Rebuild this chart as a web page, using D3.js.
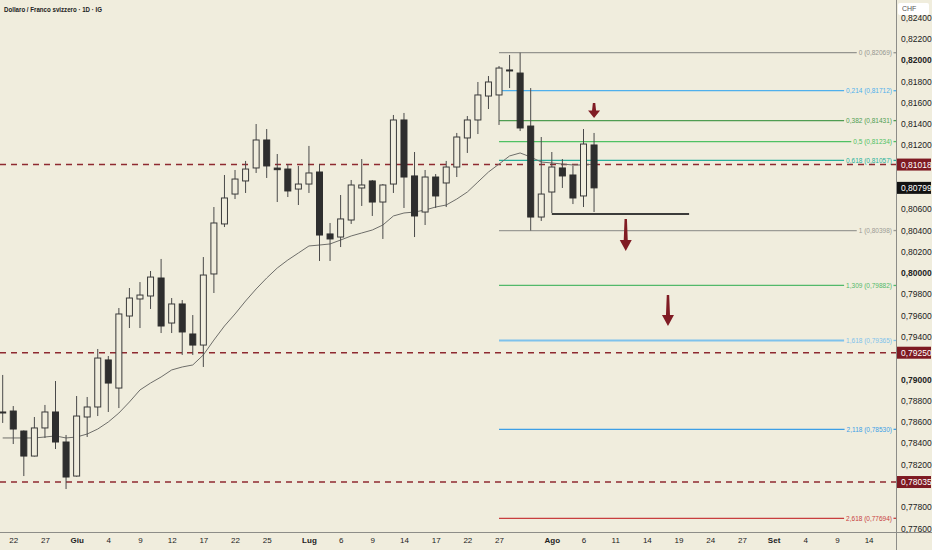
<html>
<head>
<meta charset="utf-8">
<script src="https://d3js.org/d3.v7.min.js"></script>
<style>
  body { margin: 0; background: #f0eddd; }
  svg { display: block; font-family: 'Liberation Sans', Arial, sans-serif; }
</style>
</head>
<body>
<svg width="932" height="550"></svg>
<script>
// daily candles, USD/CHF (bar index = position on the time axis)
const opens  = [0.78693,0.78702,0.78514,0.78279,0.78543,0.78693,0.78411,0.78091,0.78646,0.78740,
                0.79182,0.78918,0.79595,0.79755,0.79783,0.79952,0.79529,0.79708,0.79426,0.79322,
                0.79990,0.80460,0.80741,0.80864,0.80986,0.81249,0.80985,0.80976,0.80788,0.80835,
                0.80948,0.80366,0.80337,0.80497,0.80798,0.80864,0.80666,0.80835,0.81437,0.80911,
                0.80572,0.80901,0.80845,0.80995,0.81268,0.81437,0.81662,0.81672,0.81907,0.81878,
                0.81380,0.80525,0.80760,0.80986,0.80920,0.80723,0.81202];
const highs  = [0.79041,0.78749,0.78520,0.78646,0.78759,0.78984,0.78477,0.78843,0.78834,0.79285,
                0.79219,0.79670,0.79858,0.79914,0.80018,0.80131,0.79764,0.79745,0.79604,0.80149,
                0.80619,0.80920,0.80967,0.81052,0.81399,0.81352,0.81117,0.81023,0.81005,0.81193,
                0.81023,0.80469,0.80732,0.80873,0.81070,0.80873,0.80835,0.81484,0.81503,0.81136,
                0.80967,0.80929,0.81052,0.81315,0.81474,0.81794,0.81850,0.81944,0.82048,0.82069,
                0.81737,0.81277,0.81136,0.81070,0.81005,0.81352,0.81315];
const lows   = [0.78590,0.78392,0.78091,0.78275,0.78449,0.78345,0.77969,0.78085,0.78458,0.78655,
                0.78693,0.78730,0.79482,0.79482,0.79661,0.79435,0.79435,0.79229,0.79229,0.79116,
                0.79811,0.80431,0.80694,0.80751,0.80939,0.80892,0.80666,0.80713,0.80638,0.80751,
                0.80112,0.80112,0.80243,0.80460,0.80629,0.80535,0.80319,0.80751,0.80610,0.80337,
                0.80450,0.80610,0.80619,0.80901,0.81127,0.81305,0.81540,0.81390,0.81737,0.81333,
                0.80398,0.80488,0.80563,0.80798,0.80647,0.80619,0.80572];
const closes = [0.78684,0.78533,0.78279,0.78543,0.78693,0.78411,0.78082,0.78655,0.78740,0.79200,
                0.78965,0.79614,0.79764,0.79792,0.79961,0.79501,0.79708,0.79445,0.79322,0.79980,
                0.80469,0.80704,0.80882,0.80976,0.81249,0.81005,0.80970,0.80770,0.80835,0.80939,
                0.80356,0.80319,0.80507,0.80826,0.80826,0.80666,0.80826,0.81437,0.80901,0.80535,
                0.80901,0.80723,0.80995,0.81277,0.81437,0.81672,0.81794,0.81925,0.81898,0.81362,
                0.80525,0.80741,0.80995,0.80911,0.80704,0.81211,0.80799];
// 20-day moving average
const ma20   = [0.78449,0.78449,0.78449,0.78449,0.78458,0.78468,0.78449,0.78458,0.78486,0.78533,
                0.78599,0.78683,0.78787,0.78900,0.78965,0.79022,0.79088,0.79116,0.79135,0.79229,
                0.79369,0.79501,0.79614,0.79736,0.79849,0.79952,0.80046,0.80121,0.80187,0.80253,
                0.80262,0.80272,0.80309,0.80347,0.80375,0.80403,0.80450,0.80535,0.80563,0.80572,
                0.80591,0.80619,0.80638,0.80694,0.80760,0.80854,0.80948,0.81023,0.81099,0.81127,
                0.81089,0.81042,0.81033,0.81023,0.81014,0.81014,0.81023];

// time axis ticks
const xTickIdx    = [1,4,7,10,13,16,19,22,25,29,32,35,38,41,44,47,52,55,58,61,64,67,70,73,76,79,82];
const xTickLabels = ['22','27','Giu','4','9','12','17','22','25','Lug','6','9','14','17','22','27',
                     'Ago','6','11','14','19','24','27','Set','4','9','14'];
const monthLabels = ['Giu','Lug','Ago','Set'];

// price axis ticks
const yTicks = [0.776,0.778,0.780,0.782,0.784,0.786,0.788,0.790,0.792,0.794,0.796,0.798,
                0.800,0.802,0.804,0.806,0.808,0.810,0.812,0.814,0.816,0.818,0.820,0.822,0.824];

// fibonacci extension
const fibRatios = ['0','0,214','0,382','0,5','0,618','1','1,309','1,618','2,118','2,618'];
const fibValues = [0.82069,0.81712,0.81431,0.81234,0.81057,0.80398,0.79882,0.79365,0.78530,0.77694];
const fibColors = ['#95958f','#4fb0ec','#4f9d52','#4fc163','#26b19a','#9c9c96','#52b96a','#7ec2ec','#3d9fe6','#c83e3e'];
const fibStartIdx = 47;

// key horizontal levels and current price
const keyLevels = [0.81018, 0.79250, 0.78035];
const lastPrice = 0.80799;
const supportLevel = 0.80553, supportFrom = 52, supportTo = 65;
// down arrows: bar index, tail price, tip price
const arrowIdx  = [56, 59, 63];
const arrowTail = [0.81597, 0.80506, 0.79792];
const arrowTip  = [0.81456, 0.80206, 0.79501];

const W = 896, H = 532;
const bg = '#f0eddd', dark = '#2e2e2e', red = '#801c24';

const svg = d3.select('svg');
svg.append('rect').attr('width', 932).attr('height', 550).attr('fill', bg);

const x = d3.scaleLinear().domain([0, 84]).range([2.7, 2.7 + 84 * 10.56]);
const y = d3.scaleLinear().domain([0.775653, 0.825644]).range([H, 0]);
const fmt = v => d3.format('.5f')(v).replace('.', ',');

const plot = svg.append('g');

// key dashed levels
plot.selectAll('line.key').data(keyLevels).enter().append('line')
  .attr('x1', 0).attr('x2', W)
  .attr('y1', d => y(d)).attr('y2', d => y(d))
  .attr('stroke', '#8e2a30').attr('stroke-width', 1.5).attr('stroke-dasharray', '6,5');

// fib lines + labels
const fib = plot.selectAll('g.fib').data(fibValues).enter().append('g');
fib.each(function(d, i) {
  const g = d3.select(this);
  const t = g.append('text')
    .attr('x', 892).attr('y', y(d)).attr('dy', '0.35em')
    .attr('text-anchor', 'end').attr('font-size', 6.5)
    .attr('fill', fibColors[i])
    .text(fibRatios[i] + ' (' + fmt(d) + ')');
  const tw = t.node().getComputedTextLength();
  g.insert('line', 'text')
    .attr('x1', x(fibStartIdx)).attr('x2', 892 - tw - 2)
    .attr('y1', y(d)).attr('y2', y(d))
    .attr('stroke', fibColors[i]).attr('stroke-width', i === 7 ? 1.8 : 1.3);
  g.append('line')
    .attr('x1', 893.5).attr('x2', W)
    .attr('y1', y(d)).attr('y2', y(d))
    .attr('stroke', fibColors[i]).attr('stroke-width', 1.3);
});

// moving average
plot.append('path')
  .datum(ma20)
  .attr('fill', 'none').attr('stroke', '#6e6e6a').attr('stroke-width', 1)
  .attr('d', d3.line().x((d, i) => x(i)).y(d => y(d)));

// candles
const idx = d3.range(closes.length);
plot.selectAll('line.wick').data(idx).enter().append('line')
  .attr('x1', i => x(i)).attr('x2', i => x(i))
  .attr('y1', i => y(highs[i])).attr('y2', i => y(lows[i]))
  .attr('stroke', '#4a4a4a').attr('stroke-width', 1);

plot.selectAll('rect.body').data(idx).enter().append('rect')
  .attr('x', i => x(i) - 3)
  .attr('width', 6)
  .attr('y', i => y(Math.max(opens[i], closes[i])))
  .attr('height', i => Math.max(1, Math.abs(y(opens[i]) - y(closes[i]))))
  .attr('fill', i => closes[i] >= opens[i] ? bg : dark)
  .attr('stroke', i => closes[i] >= opens[i] ? '#3a3a3a' : dark)
  .attr('stroke-width', 1);

// support line
plot.append('line')
  .attr('x1', x(supportFrom)).attr('x2', x(supportTo))
  .attr('y1', y(supportLevel)).attr('y2', y(supportLevel))
  .attr('stroke', '#3c3c3a').attr('stroke-width', 2);

// arrows
arrowIdx.forEach((d, i) => {
  const cx = x(d), yt = y(arrowTail[i]), yp = y(arrowTip[i]);
  const len = yp - yt, head = Math.min(11, len * 0.5);
  const p = d3.path();
  p.moveTo(cx - 1.2, yt);
  p.lineTo(cx + 1.2, yt);
  p.lineTo(cx + 2, yp - head);
  p.lineTo(cx + 6, yp - head);
  p.lineTo(cx, yp);
  p.lineTo(cx - 6, yp - head);
  p.lineTo(cx - 2, yp - head);
  p.closePath();
  plot.append('path').attr('d', p.toString()).attr('fill', red);
});

// axes frame
svg.append('line').attr('x1', W + 0.5).attr('x2', W + 0.5).attr('y1', 0).attr('y2', 550)
  .attr('stroke', '#8d8d88').attr('stroke-width', 1);
svg.append('line').attr('x1', 0).attr('x2', 932).attr('y1', H + 0.5).attr('y2', H + 0.5)
  .attr('stroke', '#8d8d88').attr('stroke-width', 1);

// price axis (labels covered by a price tag are hidden, as on the platform)
const tagged = keyLevels.concat([lastPrice]);
const visibleTicks = yTicks.filter(t => tagged.every(v => Math.abs(y(t) - y(v)) > 11));
const yAxis = svg.append('g').attr('transform', 'translate(' + (W + 1) + ',0)')
  .call(d3.axisRight(y).tickValues(visibleTicks).tickSize(0).tickPadding(4).tickFormat(fmt));
yAxis.select('.domain').remove();
yAxis.selectAll('text')
  .attr('font-family', "'Liberation Sans', Arial, sans-serif")
  .attr('font-size', 8.5).attr('fill', '#222')
  .attr('font-weight', d => Math.abs(d * 100 - Math.round(d * 100)) < 1e-6 ? 'bold' : 'normal');

// time axis
const xAxis = svg.append('g').attr('transform', 'translate(0,' + H + ')')
  .call(d3.axisBottom(x).tickValues(xTickIdx).tickSize(0).tickPadding(5)
    .tickFormat((d, i) => xTickLabels[i]));
xAxis.select('.domain').remove();
xAxis.selectAll('text')
  .attr('font-family', "'Liberation Sans', Arial, sans-serif")
  .attr('font-size', 8).attr('fill', '#222')
  .attr('font-weight', (d, i) => monthLabels.includes(xTickLabels[i]) ? 'bold' : 'normal');

// price labels on axis
function priceTag(v, fill) {
  const g = svg.append('g');
  g.append('rect').attr('x', W + 1).attr('y', y(v) - 6).attr('width', 34).attr('height', 12)
    .attr('fill', fill);
  g.append('text').attr('x', W + 5).attr('y', y(v)).attr('dy', '0.35em')
    .attr('font-size', 8.5).attr('fill', '#fff').text(fmt(v));
}
keyLevels.forEach(v => priceTag(v, '#7e1a22'));
priceTag(lastPrice, '#121212');

// currency box
svg.append('rect').attr('x', 898).attr('y', 3).attr('width', 31).attr('height', 12).attr('rx', 2)
  .attr('fill', '#fff');
svg.append('text').attr('x', 902).attr('y', 9).attr('dy', '0.35em')
  .attr('font-size', 7).attr('fill', '#555').text('CHF');

// title
svg.append('text').attr('x', 4).attr('y', 9).attr('dy', '0.35em')
  .attr('font-size', 8).attr('font-weight', 'bold').attr('fill', '#222')
  .attr('textLength', 98).attr('lengthAdjust', 'spacingAndGlyphs')
  .text('Dollaro / Franco svizzero · 1D · IG');
</script>
</body>
</html>
